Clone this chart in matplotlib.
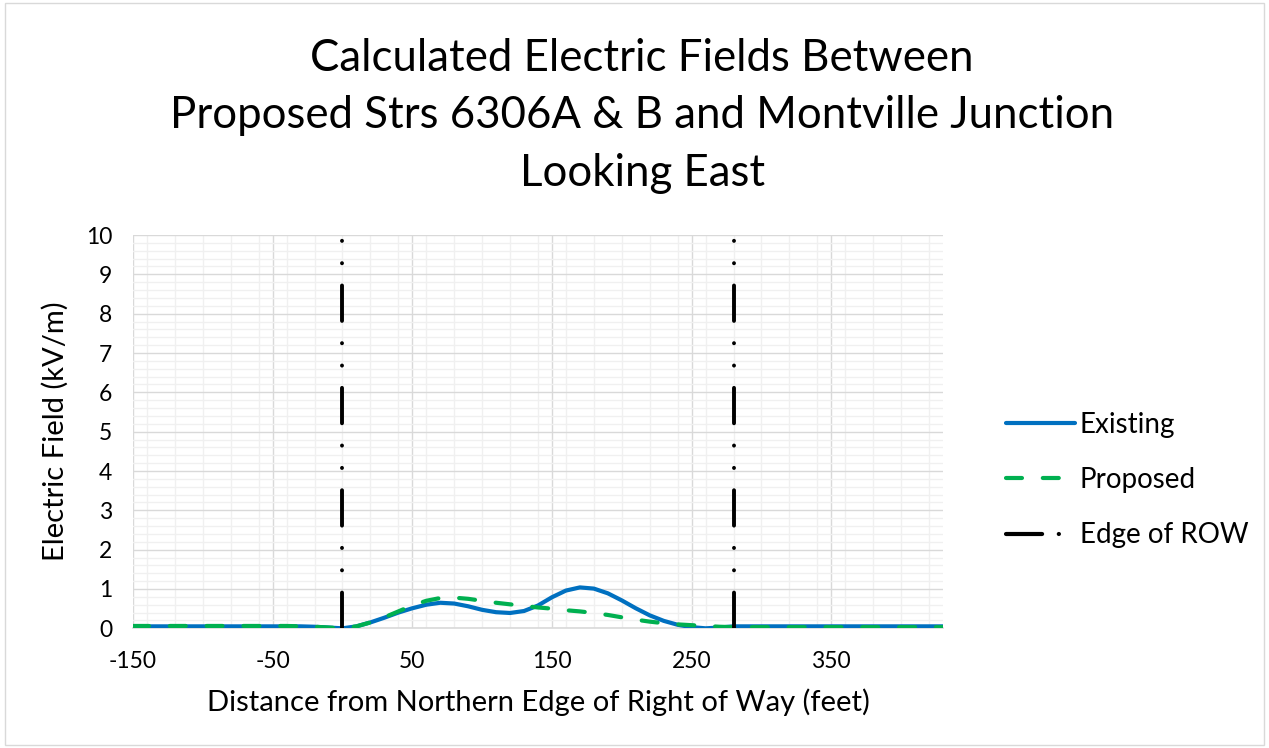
import matplotlib
matplotlib.use("Agg")
import matplotlib.pyplot as plt
from matplotlib.lines import Line2D
from matplotlib.patches import Rectangle
from matplotlib.ticker import MultipleLocator

plt.rcParams["font.family"] = ["Lato", "DejaVu Sans"]
plt.rcParams["lines.scale_dashes"] = False
plt.rcParams["axes.unicode_minus"] = False

# ── Data ────────────────────────────────────────────────────────────────
distance_ft = [-150, -140, -130, -120, -110, -100, -90, -80, -70, -60, -50,
               -40, -30, -20, -10, 0, 10, 20, 30, 40, 50, 60, 70, 80, 90,
               100, 110, 120, 130, 140, 150, 160, 170, 180, 190, 200, 210,
               220, 230, 240, 250, 260, 270, 280, 290, 300, 320, 340, 360,
               380, 400, 420, 430]

existing_kvm = [0.05, 0.05, 0.05, 0.05, 0.05, 0.05, 0.05, 0.05, 0.05, 0.05, 0.05,
                0.05, 0.05, 0.04, 0.02, 0.00, 0.05, 0.15, 0.27, 0.40, 0.51, 0.60,
                0.65, 0.63, 0.56, 0.47, 0.41, 0.39, 0.44, 0.58, 0.79, 0.96, 1.04,
                1.01, 0.89, 0.71, 0.51, 0.33, 0.19, 0.09, 0.03, 0.00, 0.02, 0.05,
                0.05, 0.05, 0.05, 0.05, 0.05, 0.05, 0.05, 0.05, 0.05]

proposed_kvm = [0.06, 0.06, 0.06, 0.06, 0.06, 0.06, 0.06, 0.06, 0.06, 0.06, 0.06,
                0.06, 0.05, 0.04, 0.02, 0.00, 0.05, 0.15, 0.28, 0.43, 0.58, 0.70,
                0.77, 0.78, 0.75, 0.70, 0.65, 0.61, 0.57, 0.53, 0.50, 0.46, 0.43,
                0.39, 0.34, 0.28, 0.22, 0.17, 0.13, 0.10, 0.08, 0.06, 0.04, 0.03,
                0.03, 0.03, 0.03, 0.03, 0.03, 0.03, 0.03, 0.03, 0.03]

row_edges_ft = [0, 280]
row_span_kvm = [0, 10]

series_labels = ["Existing", "Proposed", "Edge of ROW"]
title_lines = ["Calculated Electric Fields Between",
               "Proposed Strs 6306A & B and Montville Junction",
               "Looking East"]

# ── Styles ──────────────────────────────────────────────────────────────
BLUE = "#0070C0"
GREEN = "#00B050"
MAJOR_GRID = "#D9D9D9"
MINOR_GRID = "#F0F0F0"
GREEN_DASHES = (11.5, 15)
ROW_DASHES = (25.5, 16, 0.1, 16, 0.1, 16)

fig = plt.figure(figsize=(12.69, 7.48), dpi=100)
ax = fig.add_axes([0.1048, 0.160, 0.6383, 0.5258])

ax.plot(distance_ft, existing_kvm, color=BLUE, lw=3.0,
        solid_capstyle="round", solid_joinstyle="round", zorder=3)
ax.plot(distance_ft, proposed_kvm, color=GREEN, lw=3.0, dashes=GREEN_DASHES,
        dash_capstyle="round", zorder=4)
for x in row_edges_ft:
    ax.plot([x, x], row_span_kvm, color="black", lw=2.8, dashes=ROW_DASHES,
            dash_capstyle="round", zorder=5)

ax.set_xlim(-150, 430)
ax.set_ylim(0, 10)
ax.set_xticks(range(-150, 431, 100))
ax.xaxis.set_minor_locator(MultipleLocator(20))
ax.set_yticks(range(0, 11))
ax.yaxis.set_minor_locator(MultipleLocator(0.2))
ax.grid(which="major", color=MAJOR_GRID, lw=1.0, zorder=1)
ax.grid(which="minor", color=MINOR_GRID, lw=1.0, zorder=0)
ax.set_axisbelow(True)
ax.tick_params(which="both", length=0, labelsize=16.5, colors="black")
ax.tick_params(axis="x", pad=16)
ax.tick_params(axis="y", pad=15)
for side in ["top", "right", "left"]:
    ax.spines[side].set_visible(False)
ax.spines["bottom"].set_color(MAJOR_GRID)
ax.spines["bottom"].set_linewidth(1.2)

ax.set_xlabel("Distance from Northern Edge of Right of Way (feet)",
              fontsize=21, labelpad=12)
ax.set_ylabel("Electric Field (kV/m)", fontsize=21, labelpad=12)

fig.text(0.506, 0.845, "\n".join(title_lines), ha="center", va="center",
         fontsize=31.5, linespacing=1.5)

handles = [Line2D([], [], color=BLUE, lw=3.0, solid_capstyle="round"),
           Line2D([], [], color=GREEN, lw=3.0, dashes=GREEN_DASHES,
                  dash_capstyle="round"),
           Line2D([], [], color="black", lw=3.0, dashes=(26, 12, 0.1, 20),
                  dash_capstyle="round")]
fig.legend(handles, series_labels, loc="center left",
           bbox_to_anchor=(0.773, 0.358), frameon=False, fontsize=20,
           handlelength=2.5, handletextpad=0.15, labelspacing=1.05)

fig.add_artist(Rectangle((0.004, 0.004), 0.992, 0.992, transform=fig.transFigure,
                         fill=False, edgecolor="#D9D9D9", lw=1.0))

fig.savefig("out.png", dpi=100)
